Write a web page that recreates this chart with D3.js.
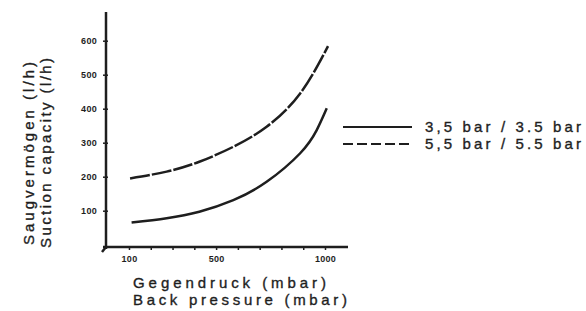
<!DOCTYPE html>
<html lang="de">
<head>
<meta charset="UTF-8">
<title>Saugvermögen / Suction capacity</title>
<script src="https://d3js.org/d3.v7.min.js"></script>
<style>
  body { margin: 0; background: #fff; }
  svg text { font-family: "Liberation Sans", Arial, sans-serif; fill: #1e1e1e; }
  .title { stroke: #1e1e1e; stroke-width: 0.35; }
</style>
</head>
<body>
<svg id="chart" width="586" height="311"></svg>
<script>
// back pressure (mbar) vs suction capacity (l/h)
const pressure35 = [112, 273, 423, 579, 732, 886, 962, 1008];
const capacity35 = [65, 78, 97, 131, 185, 269, 337, 401];
const pressure55 = [105, 273, 423, 579, 732, 886, 1014];
const capacity55 = [195, 215, 244, 288, 347, 445, 584];

const yTicks = [100, 200, 300, 400, 500, 600];
const xTicks = [100, 500, 1000];
const xMinor = [100, 200, 300, 400, 500, 600, 700, 800, 900, 1000];
const legendLabels = ["3,5 bar / 3.5 bar", "5,5 bar / 5.5 bar"];

const svg = d3.select("#chart");
const ink = "#1e1e1e";

const x = d3.scaleLinear().domain([0, 1000]).range([107.2, 325]);
const y = d3.scaleLinear().domain([0, 600]).range([244.7, 40.7]);
const axisY = 247, axisX = 106;

// axes
svg.append("line")
    .attr("x1", axisX).attr("x2", axisX)
    .attr("y1", 12).attr("y2", axisY + 2)
    .attr("stroke", ink).attr("stroke-width", 2.5);
svg.append("line")
    .attr("x1", axisX - 3).attr("x2", 348)
    .attr("y1", axisY).attr("y2", axisY)
    .attr("stroke", ink).attr("stroke-width", 2.5);
svg.append("line")
    .attr("x1", axisX).attr("x2", axisX - 4)
    .attr("y1", axisY).attr("y2", axisY + 5)
    .attr("stroke", ink).attr("stroke-width", 2.5);

const yAxis = d3.axisLeft(y).tickValues(yTicks).tickSize(3).tickPadding(6)
    .tickFormat(d3.format("d"));
const gy = svg.append("g").attr("transform", `translate(${axisX},0)`).call(yAxis);
gy.select(".domain").remove();
gy.selectAll("line").attr("stroke", ink).attr("stroke-width", 1.5).attr("x2", 2).attr("x1", -3);
gy.selectAll("text").style("font-size", "9px").style("font-weight", "bold").attr("letter-spacing", "0.3");

const gxMinor = svg.append("g").attr("transform", `translate(0,${axisY})`)
    .call(d3.axisBottom(x).tickValues(xMinor).tickSize(3).tickFormat(""));
gxMinor.select(".domain").remove();
gxMinor.selectAll("line").attr("stroke", ink).attr("stroke-width", 1.5);

const gx = svg.append("g").attr("transform", `translate(0,${axisY})`)
    .call(d3.axisBottom(x).tickValues(xTicks).tickSize(0).tickPadding(9).tickFormat(d3.format("d")));
gx.select(".domain").remove();
gx.selectAll("text").style("font-size", "9px").style("font-weight", "bold").attr("letter-spacing", "0.3");

// axis titles
svg.append("text").attr("class", "title").attr("x", 133).attr("y", 288).attr("textLength", 193)
    .attr("lengthAdjust", "spacing").style("font-size", "15px").text("Gegendruck (mbar)");
svg.append("text").attr("class", "title").attr("x", 133).attr("y", 305).attr("textLength", 214)
    .attr("lengthAdjust", "spacing").style("font-size", "15px").text("Back pressure (mbar)");

svg.append("text").attr("class", "title").attr("transform", "translate(34,245) rotate(-90)")
    .attr("textLength", 183).attr("lengthAdjust", "spacing")
    .style("font-size", "15px").text("Saugvermögen (l/h)");
svg.append("text").attr("class", "title").attr("transform", "translate(51,248) rotate(-90)")
    .attr("textLength", 190).attr("lengthAdjust", "spacing")
    .style("font-size", "15px").text("Suction capacity (l/h)");

// curves
const line = d3.line().x(d => x(d[0])).y(d => y(d[1])).curve(d3.curveNatural);
svg.append("path")
    .attr("d", line(d3.zip(pressure35, capacity35)))
    .attr("fill", "none").attr("stroke", ink).attr("stroke-width", 2.5);
svg.append("path")
    .attr("d", line(d3.zip(pressure55, capacity55)))
    .attr("fill", "none").attr("stroke", ink).attr("stroke-width", 2.5)
    .attr("stroke-dasharray", "20,2");

// legend
const legend = svg.append("g");
legendLabels.forEach((label, i) => {
    const ly = 127 + i * 17;
    legend.append("line")
        .attr("x1", 343).attr("x2", 412).attr("y1", ly).attr("y2", ly)
        .attr("stroke", ink).attr("stroke-width", 2)
        .attr("stroke-dasharray", i === 1 ? "10,4" : null);
    legend.append("text")
        .attr("class", "title")
        .attr("x", 425).attr("y", ly + 5)
        .attr("textLength", 156).attr("lengthAdjust", "spacing")
        .style("font-size", "15px").text(label);
});
</script>
</body>
</html>
